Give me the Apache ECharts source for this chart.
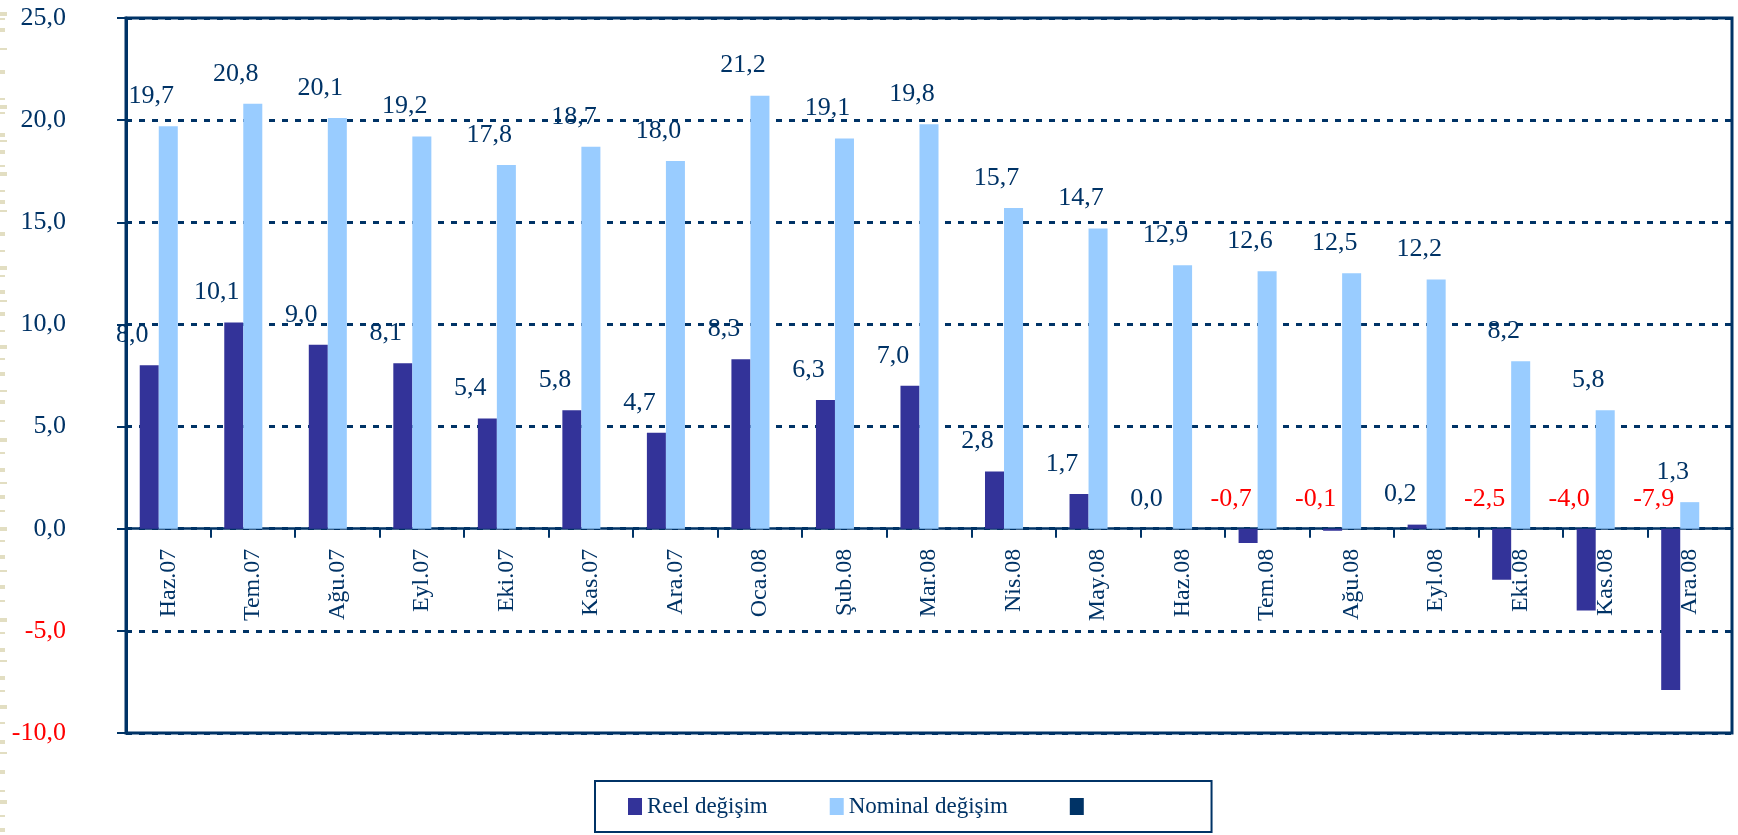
<!DOCTYPE html>
<html>
<head>
<meta charset="utf-8">
<script src="https://cdn.jsdelivr.net/npm/echarts@6/dist/echarts.min.js"></script>
<style>
html,body{margin:0;padding:0;background:#fff;}
#main{width:1738px;height:835px;}
</style>
</head>
<body>
<div id="main"></div>
<script>
var categories = ['Haz.07','Tem.07','Ağu.07','Eyl.07','Eki.07','Kas.07','Ara.07','Oca.08','Şub.08','Mar.08','Nis.08','May.08','Haz.08','Tem.08','Ağu.08','Eyl.08','Eki.08','Kas.08','Ara.08'];
var reel = [8.0,10.1,9.0,8.1,5.4,5.8,4.7,8.3,6.3,7.0,2.8,1.7,0.0,-0.7,-0.1,0.2,-2.5,-4.0,-7.9];
var nominal = [19.7,20.8,20.1,19.2,17.8,18.7,18.0,21.2,19.1,19.8,15.7,14.7,12.9,12.6,12.5,12.2,8.2,5.8,1.3];
var third = categories.map(function(){ return null; });
var seriesNames = ['Reel değişim','Nominal değişim',' '];
var yTicks = {min:-10, max:25, interval:5};

var NAVY = '#003366';
var RED = '#FF0000';
var FONT = '"Liberation Serif", serif';

var GRID_TOP = 18, GRID_BOTTOM = 102, H = 835;
var gridH = H - GRID_TOP - GRID_BOTTOM;
var zeroOffset = -gridH * (0 - yTicks.min) / (yTicks.max - yTicks.min);

function fmt(v){ return Number(v).toFixed(1).replace('.', ','); }

function makeData(arr){
  return arr.map(function(v){
    return {value:v, label:{color: v < 0 ? RED : NAVY}};
  });
}

var labelCfg = {
  show:true, position:'top', distance:5, offset:[-17,-12],
  fontFamily:FONT, fontSize:26, color:NAVY,
  formatter:function(p){ return fmt(p.value); }
};

// decorative beige strip on the left edge
var stripY = [12,18,28,48,70,98,105,112,133,140,150,165,172,190,200,210,232,250,266,275,290,300,312,330,345,358,372,390,400,420,438,452,468,482,495,510,527,540,555,570,585,600,618,632,648,660,676,690,705,722,740,752,770,790,800,815,828];
var stripGraphics = stripY.map(function(y,i){
  return {type:'rect', left:0, top:y, shape:{width:(i%3===0?7:5), height:(i%2===0?4:2)}, style:{fill:'#E2DEC2'}, silent:true};
});

var chart = echarts.init(document.getElementById('main'), null, {renderer:'canvas'});
chart.setOption({
  animation:false,
  backgroundColor:'#fff',
  textStyle:{fontFamily:FONT},
  graphic: stripGraphics,
  grid:{left:126, right:6, top:GRID_TOP, bottom:GRID_BOTTOM, show:true, borderColor:NAVY, borderWidth:3, backgroundColor:'transparent'},
  legend:{
    data:seriesNames,
    left:595, top:781,
    padding:[14,117,14,33],
    borderColor:NAVY, borderWidth:2,
    itemGap:62, itemWidth:14, itemHeight:17,
    icon:'rect',
    textStyle:{fontFamily:FONT, fontSize:23, color:NAVY}
  },
  xAxis:{
    type:'category',
    data:categories,
    position:'bottom',
    offset:zeroOffset,
    z:1,
    axisLine:{onZero:false, lineStyle:{color:NAVY, width:2.5}},
    axisTick:{show:true, alignWithLabel:false, length:9, inside:false, lineStyle:{color:NAVY, width:2}},
    axisLabel:{rotate:90, margin:20, fontFamily:FONT, fontSize:24, color:NAVY, interval:0},
    splitLine:{show:false}
  },
  yAxis:{
    type:'value',
    min:yTicks.min, max:yTicks.max, interval:yTicks.interval,
    z:0,
    axisLine:{show:true, lineStyle:{color:NAVY, width:3}},
    axisTick:{show:true, length:9, lineStyle:{color:NAVY, width:2}},
    axisLabel:{margin:60, fontFamily:FONT, fontSize:26,
      color:function(v){ return Number(v) < 0 ? RED : NAVY; },
      formatter:function(v){ return fmt(v); }},
    splitLine:{show:true, lineStyle:{color:NAVY, width:3, type:[6,7]}}
  },
  series:[
    {name:seriesNames[0], type:'bar', data:makeData(reel), itemStyle:{color:'#333399'}, barGap:'0%', barCategoryGap:'32.5%', label:labelCfg, z:2},
    {name:seriesNames[1], type:'bar', data:makeData(nominal), itemStyle:{color:'#99CCFF'}, barGap:'0%', barCategoryGap:'32.5%', label:labelCfg, z:2},
    {name:seriesNames[2], type:'bar', data:third, itemStyle:{color:NAVY}, barGap:'0%', barCategoryGap:'32.5%', z:2}
  ]
});
</script>
</body>
</html>
